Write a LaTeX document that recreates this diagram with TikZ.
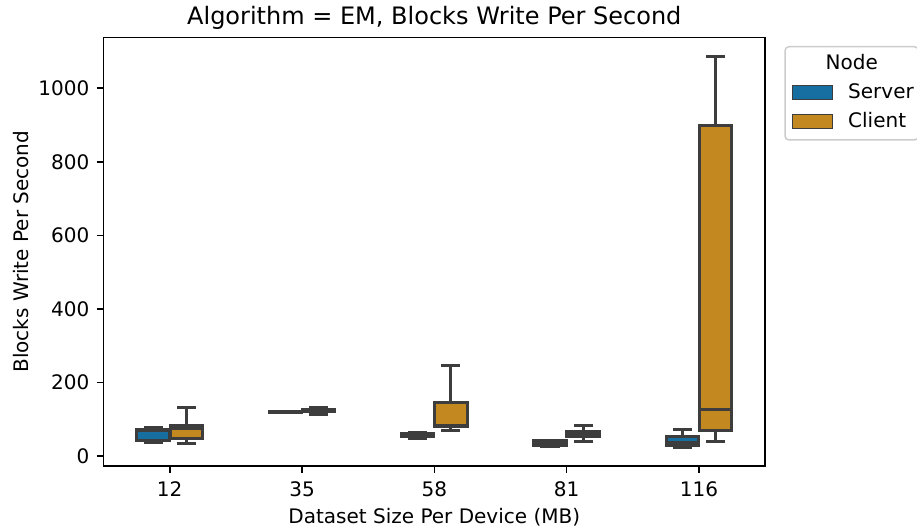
\documentclass[tikz,border=0pt]{standalone}
\usepackage{fontspec}
\setmainfont{DejaVu Sans}
\definecolor{srvblue}{RGB}{23,110,160}
\definecolor{cliorange}{RGB}{195,136,32}
\definecolor{edgegray}{RGB}{61,61,61}
\definecolor{legframe}{RGB}{204,204,204}

\tikzset{
  spine/.style={draw=black, line width=1.6pt},
  tickmark/.style={draw=black, line width=1.6pt},
  boxedge/.style={draw=edgegray, line width=3pt, line join=miter},
  whisk/.style={draw=edgegray, line width=3pt, line cap=rect},
  ticklabel/.style={font=\fontsize{20}{24}\selectfont, inner sep=0pt},
  axlabel/.style={font=\fontsize{20}{24}\selectfont, inner sep=0pt},
  titlelabel/.style={font=\fontsize{24}{29}\selectfont, inner sep=0pt},
  legtext/.style={font=\fontsize{20}{24}\selectfont, inner sep=0pt},
}

% one box of a box plot: center x, lower whisker, Q1, median, Q3, upper whisker, fill
\newcommand\boxglyph[7]{%
  \draw[boxedge, fill=#7] ({#1-16.2},#3) rectangle ({#1+16.2},#5);
  \draw[whisk] (#1,#3) -- (#1,#2);
  \draw[whisk] (#1,#5) -- (#1,#6);
  \draw[whisk] ({#1-8.1},#2) -- ({#1+8.1},#2);
  \draw[whisk] ({#1-8.1},#6) -- ({#1+8.1},#6);
  \draw[whisk] ({#1-16.2},#4) -- ({#1+16.2},#4);
}

\begin{document}
\begin{tikzpicture}[x=1pt, y=-1pt]
\useasboundingbox (0,0) rectangle (917,529);
\clip (0,0) rectangle (917,529);

% data area: y in data units, origin at the zero line
\begin{scope}[yshift=-456pt, y=0.3677pt]
  % size 12
  \boxglyph{153.16}{36.7}{43}{69}{73}{77.5}{srvblue}
  \boxglyph{186.24}{35}{47.6}{75}{82}{132}{cliorange}
  % size 35
  \boxglyph{285.46}{117}{118}{119}{120}{121}{srvblue}
  \boxglyph{318.54}{112}{120}{123}{126}{131}{cliorange}
  % size 58
  \boxglyph{417.76}{47.6}{54}{58}{62}{64}{srvblue}
  \boxglyph{450.84}{69}{79.5}{84}{144.7}{246}{cliorange}
  % size 81
  \boxglyph{550.06}{27}{29.5}{35}{41}{43}{srvblue}
  \boxglyph{583.14}{40}{54}{61}{66.6}{83.5}{cliorange}
  % size 116
  \boxglyph{682.36}{23}{29.4}{37.5}{52}{72}{srvblue}
  \boxglyph{715.44}{38.6}{68.5}{127}{898}{1086}{cliorange}

  % y ticks and labels
  \foreach \v in {0,200,400,600,800,1000}{
    \draw[tickmark] (96.5,\v) -- (103.5,\v);
    \node[ticklabel, anchor=base east, yshift=-7.3pt] (ytick\v) at (89.5,\v) {\v};
  }
\end{scope}

% axes frame
\draw[spine] (103.5,37.5) rectangle (765,466);

% x ticks and labels
\foreach \c/\t in {169.7/12, 302.0/35, 434.3/58, 566.6/81, 698.9/116}{
  \draw[tickmark] (\c,466) -- (\c,473);
  \node[ticklabel, anchor=base] (xtick\t) at (\c,496.5) {\t};
}

% axis labels and title
\node[axlabel, anchor=base] (xlab) at (434.3,523.8) {Dataset Size Per Device (MB)};
\node[axlabel, anchor=base, rotate=90] (ylab) at (28,251.75) {Blocks Write Per Second};
\node[titlelabel, anchor=base] (title) at (434.3,25) {Algorithm = EM, Blocks Write Per Second};

% legend
\draw[draw=legframe, line width=1.5pt, fill=white, fill opacity=0.8, rounded corners=4pt]
  (785,46.7) rectangle (918.4,140);
\node[legtext, anchor=base] (legtitle) at (851.7,69.3) {Node};
\draw[draw=edgegray, line width=1.2pt, fill=srvblue] (792.7,85.5) rectangle (832.7,99.5);
\node[legtext, anchor=base west] (legsrv) at (848,98.3) {Server};
\draw[draw=edgegray, line width=1.2pt, fill=cliorange] (792.7,114.5) rectangle (832.7,128.5);
\node[legtext, anchor=base west] (legcli) at (848,127.7) {Client};
\end{tikzpicture}
\end{document}
